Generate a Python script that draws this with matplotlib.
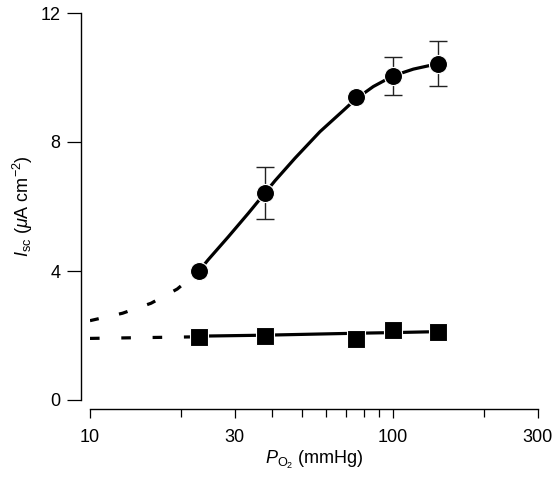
import matplotlib
matplotlib.use('Agg')
import matplotlib.pyplot as plt

plt.rcParams['font.family'] = ['Liberation Sans', 'DejaVu Sans']
plt.rcParams['mathtext.fontset'] = 'custom'
plt.rcParams['mathtext.rm'] = 'Liberation Sans'
plt.rcParams['mathtext.it'] = 'Liberation Sans:italic'

# measured points (PO2 in mmHg, Isc in uA cm-2)
po2 = [22.9, 37.8, 75.3, 100, 141]
isc_circle = [4.0, 6.42, 9.40, 10.05, 10.43]
err_circle = [0, 0.8, 0, 0.6, 0.69]
isc_square = [1.96, 2.0, 1.90, 2.17, 2.10]

# fitted curve for circles
fit_c_dash_x = [10, 12.8, 15.9, 19.4, 22.9]
fit_c_dash_y = [2.46, 2.69, 3.0, 3.44, 4.0]
fit_c_x = [22.9, 24.5, 28.6, 33.3, 37.8, 40.8, 47.5, 57.4, 68.6, 75.3, 86.1, 100, 116.7, 141]
fit_c_y = [4.0, 4.34, 5.06, 5.79, 6.42, 6.80, 7.50, 8.32, 8.98, 9.33, 9.72, 10.05, 10.26, 10.43]

# fitted line for squares
fit_s_dash_x = [10, 22.9]
fit_s_dash_y = [1.91, 1.96]
fit_s_x = [22.9, 37.8, 75.3, 100, 141]
fit_s_y = [1.98, 2.01, 2.07, 2.09, 2.12]

fig = plt.figure(figsize=(5.57, 4.82), dpi=100)
ax = fig.add_axes([90 / 557, 1 - 400 / 482, (537.6 - 90) / 557, 387 / 482])

ax.plot(fit_c_dash_x, fit_c_dash_y, color='black', lw=2.3, dashes=(2.8, 6.5), zorder=2)
ax.plot(fit_c_x, fit_c_y, color='black', lw=2.3, zorder=2)
ax.plot(fit_s_dash_x, fit_s_dash_y, color='black', lw=2.3, dashes=(3.0, 6.8), zorder=2)
ax.plot(fit_s_x, fit_s_y, color='black', lw=2.3, zorder=2)

ax.errorbar(po2, isc_circle, yerr=err_circle, fmt='none', ecolor='#222222',
            elinewidth=1.0, capsize=6.5, capthick=1.0, zorder=3)
ax.plot(po2, isc_circle, 'o', color='black', ms=13, mec='white', mew=0.8, zorder=4)
ax.plot(po2, isc_square, 's', color='black', ms=12.5, mec='white', mew=0.8, zorder=4)

ax.set_xscale('log')
ax.set_xlim(10, 300)
ax.set_ylim(0, 12)
ax.set_xticks([10, 30, 100, 300])
ax.set_xticklabels(['10', '30', '100', '300'])
ax.set_xticks([20, 40, 50, 60, 70, 80, 90, 200], minor=True)
ax.set_xticklabels([], minor=True)
ax.set_yticks([0, 4, 8, 12])

for s in ['top', 'right']:
    ax.spines[s].set_visible(False)
ax.spines['left'].set_position(('outward', 6.5))
ax.spines['bottom'].set_position(('outward', 6.5))
ax.spines['left'].set_linewidth(1.0)
ax.spines['bottom'].set_linewidth(1.0)

ax.tick_params(axis='y', which='major', length=10, width=0.9, pad=5, labelsize=13)
ax.tick_params(axis='x', which='major', length=6.5, width=0.9, pad=8, labelsize=13)
ax.tick_params(axis='x', which='minor', length=6, width=0.9)

ax.set_xlabel(r'$P_{\rm O_2}$ (mmHg)', fontsize=13, labelpad=2)
ax.set_ylabel(r'$I_{\rm sc}$ ($\mathit{μ}$A cm$^{-2}$)', fontsize=13, labelpad=4)

fig.savefig('out.png', dpi=100)
